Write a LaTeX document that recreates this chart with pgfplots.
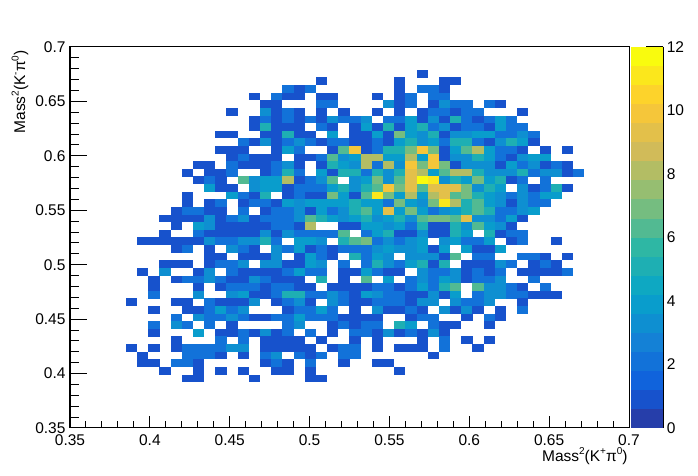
\documentclass[border=0pt]{standalone}
\usepackage{pgfplots}
\pgfplotsset{compat=1.18}
\usepackage{fontspec}
\setmainfont{Liberation Sans}
\newcommand\tsz{\fontsize{15.5}{18}\selectfont}
\newcommand\sups[1]{\raisebox{0.42em}{\fontsize{10}{10}\selectfont #1}}
% ROOT kBird palette, 20 contour bands over 0..12
\definecolor{b0}{RGB}{38,62,170}\definecolor{b1}{RGB}{23,82,204}\definecolor{b2}{RGB}{16,99,220}\definecolor{b3}{RGB}{18,114,217}
\definecolor{b4}{RGB}{20,129,214}\definecolor{b5}{RGB}{14,143,209}\definecolor{b6}{RGB}{9,157,204}\definecolor{b7}{RGB}{14,168,194}
\definecolor{b8}{RGB}{30,175,179}\definecolor{b9}{RGB}{46,183,164}\definecolor{b10}{RGB}{82,186,146}\definecolor{b11}{RGB}{117,189,128}
\definecolor{b12}{RGB}{150,190,113}\definecolor{b13}{RGB}{179,189,100}\definecolor{b14}{RGB}{209,187,89}\definecolor{b15}{RGB}{227,192,74}
\definecolor{b16}{RGB}{245,198,58}\definecolor{b17}{RGB}{253,211,43}\definecolor{b18}{RGB}{251,231,28}\definecolor{b19}{RGB}{249,251,14}
\pgfdeclareplotmark{cell}{\pgfpathrectangle{\pgfqpoint{-5.65pt}{-3.87pt}}{\pgfqpoint{11.3pt}{7.74pt}}\pgfusepathqfill}
\pgfdeclareplotmark{band}{\pgfpathrectangle{\pgfqpoint{-16.2pt}{-9.6pt}}{\pgfqpoint{32.4pt}{19.2pt}}\pgfusepathqfill}
\pgfplotsset{
 cellplot/.style={only marks,scatter,scatter src=explicit symbolic,
  scatter/classes={
   1={mark=cell,fill=b1},2={mark=cell,fill=b3},3={mark=cell,fill=b5},4={mark=cell,fill=b6},
   5={mark=cell,fill=b8},6={mark=cell,fill=b10},7={mark=cell,fill=b11},8={mark=cell,fill=b13},
   9={mark=cell,fill=b15},10={mark=cell,fill=b16},11={mark=cell,fill=b18},12={mark=cell,fill=b19}}},
 bandplot/.style={only marks,scatter,scatter src=explicit symbolic,
  scatter/classes={
   0={mark=band,fill=b0},1={mark=band,fill=b1},2={mark=band,fill=b2},3={mark=band,fill=b3},4={mark=band,fill=b4},
   5={mark=band,fill=b5},6={mark=band,fill=b6},7={mark=band,fill=b7},8={mark=band,fill=b8},9={mark=band,fill=b9},
   10={mark=band,fill=b10},11={mark=band,fill=b11},12={mark=band,fill=b12},13={mark=band,fill=b13},14={mark=band,fill=b14},
   15={mark=band,fill=b15},16={mark=band,fill=b16},17={mark=band,fill=b17},18={mark=band,fill=b18},19={mark=band,fill=b19}}},
 common/.style={scale only axis,width=559pt,height=381pt,at={(70pt,48pt)},anchor=south west,
  xmin=0.35,xmax=0.7,ymin=0.35,ymax=0.7,axis line style={line width=1pt},
  tick style={line width=1pt,black},minor tick style={line width=1pt,black},tick align=inside,
  tick label style={font=\tsz},scaled ticks=false}
}
% one row of bins: #1 = y bin number, #2 = x bin number and content
\newcommand\binrow[2]{\addplot[cellplot] table[row sep=\\,x expr=\thisrow{i}*0.007+0.3535,y expr=#1*0.007+0.3535,meta=v]{i v\\ #2};}
\begin{document}
\begin{tikzpicture}[x=1pt,y=1pt]
\useasboundingbox (0,0) rectangle (698,476);
\begin{axis}[common,
  xtick={0.35,0.4,0.45,0.5,0.55,0.6,0.65,0.7},
  xticklabels={0.35,0.4,0.45,0.5,0.55,0.6,0.65,0.7},
  ytick=\empty,minor x tick num=4,tickwidth=12pt,subtickwidth=6.5pt,
  xtick pos=bottom,
  xlabel={Mass\sups{2}(K\sups{+}π\sups{0})},
  every axis x label/.style={at={(rel axis cs:1,0)},anchor=north east,yshift=-16pt,xshift=2pt,font=\tsz},
  xticklabel style={yshift=-3pt}]
\binrow{46}{31 1\\}
\binrow{45}{22 1\\29 1\\33 1\\34 1\\}
\binrow{44}{19 2\\20 1\\21 2\\29 1\\31 2\\32 2\\33 1\\}
\binrow{43}{16 1\\18 2\\19 1\\20 1\\22 1\\23 1\\27 1\\29 1\\30 2\\32 2\\33 2\\}
\binrow{42}{17 1\\18 1\\22 2\\23 2\\28 3\\29 1\\30 2\\32 1\\33 3\\34 2\\35 2\\37 2\\38 1\\}
\binrow{41}{14 1\\17 3\\18 1\\19 2\\20 1\\22 1\\24 1\\27 1\\29 1\\31 1\\32 2\\33 2\\34 1\\35 2\\36 2\\40 1\\}
\binrow{40}{16 1\\17 2\\18 1\\19 2\\20 1\\21 2\\22 1\\23 3\\24 2\\25 2\\26 3\\28 2\\29 2\\30 4\\31 1\\32 3\\33 1\\34 5\\35 2\\36 1\\37 2\\38 4\\39 2\\}
\binrow{39}{16 1\\17 5\\18 1\\19 1\\20 1\\22 2\\23 1\\25 1\\26 4\\27 1\\28 5\\29 1\\30 4\\31 5\\32 2\\33 3\\34 1\\35 2\\36 2\\37 1\\38 4\\39 2\\40 2\\}
\binrow{38}{13 1\\14 1\\17 1\\18 1\\19 5\\20 1\\21 1\\23 4\\25 1\\26 1\\27 4\\28 1\\29 7\\30 4\\31 3\\32 5\\33 1\\34 3\\35 3\\36 4\\37 4\\38 2\\39 2\\40 3\\41 2\\}
\binrow{37}{15 2\\16 1\\17 3\\18 1\\19 2\\20 3\\21 2\\22 1\\23 2\\24 2\\25 1\\26 1\\27 2\\28 1\\29 4\\30 5\\31 3\\32 4\\33 2\\34 5\\35 5\\36 2\\37 1\\38 3\\39 5\\40 4\\41 1\\}
\binrow{36}{13 1\\14 1\\15 1\\18 1\\19 4\\20 2\\23 1\\24 6\\25 10\\26 1\\27 2\\28 5\\29 5\\30 7\\31 10\\32 7\\33 1\\34 4\\35 6\\36 8\\37 4\\38 2\\39 2\\40 1\\42 1\\44 1\\}
\binrow{35}{14 1\\15 2\\16 1\\17 1\\18 1\\20 1\\21 1\\22 2\\23 6\\24 3\\25 4\\26 8\\27 8\\28 4\\29 4\\30 8\\31 4\\32 10\\33 1\\34 3\\35 3\\36 5\\37 4\\38 2\\39 1\\40 3\\41 4\\42 4\\}
\binrow{34}{11 1\\12 1\\14 2\\15 1\\16 1\\17 1\\18 2\\19 3\\20 1\\22 1\\23 5\\24 4\\25 3\\26 8\\27 2\\28 8\\29 3\\30 10\\31 7\\32 10\\33 7\\34 1\\35 3\\36 3\\37 3\\38 1\\39 4\\40 2\\41 3\\42 1\\43 2\\44 1\\}
\binrow{33}{10 1\\12 1\\13 1\\14 2\\17 1\\18 2\\19 5\\20 2\\22 4\\23 1\\24 5\\25 5\\26 2\\27 5\\28 3\\29 5\\30 9\\31 8\\32 4\\33 6\\34 8\\35 8\\36 5\\37 3\\38 3\\39 3\\40 5\\41 2\\42 3\\43 3\\44 1\\45 2\\}
\binrow{32}{11 1\\12 2\\13 1\\15 6\\16 3\\17 4\\18 4\\19 8\\20 1\\21 2\\22 3\\23 6\\25 3\\26 4\\27 7\\28 3\\29 6\\30 9\\31 12\\32 11\\33 3\\34 5\\35 4\\36 7\\37 4\\38 5\\39 1\\40 2\\42 2\\}
\binrow{31}{12 4\\13 1\\14 1\\16 3\\17 4\\18 4\\19 1\\20 2\\21 2\\22 2\\23 4\\24 5\\25 3\\26 5\\27 6\\28 10\\29 7\\30 9\\31 6\\32 9\\33 9\\34 9\\35 7\\36 3\\37 5\\38 4\\40 3\\41 1\\42 2\\43 5\\44 1\\}
\binrow{30}{10 1\\14 4\\15 2\\16 1\\17 5\\19 1\\20 2\\21 1\\22 1\\23 7\\24 4\\25 1\\26 6\\27 11\\28 7\\29 4\\30 8\\31 4\\32 8\\33 9\\34 6\\35 7\\36 5\\37 4\\38 3\\39 2\\40 3\\41 2\\42 4\\43 4\\}
\binrow{29}{10 1\\12 1\\13 2\\15 1\\16 2\\17 2\\18 1\\19 4\\20 3\\21 4\\22 4\\23 4\\24 4\\25 5\\26 4\\27 4\\28 2\\29 7\\30 4\\31 3\\32 7\\33 11\\34 8\\35 5\\36 6\\37 4\\38 3\\39 1\\40 3\\41 2\\42 2\\}
\binrow{28}{9 1\\10 2\\11 2\\12 1\\13 1\\15 2\\17 1\\18 2\\19 2\\20 3\\21 1\\22 4\\23 2\\24 3\\25 5\\26 6\\27 4\\28 9\\29 4\\30 7\\31 4\\32 2\\33 3\\34 4\\35 5\\36 6\\37 5\\38 2\\39 2\\40 3\\41 4\\}
\binrow{27}{8 1\\9 1\\10 1\\11 1\\12 3\\13 1\\14 2\\15 3\\16 1\\17 2\\18 2\\19 2\\20 3\\21 6\\22 5\\23 4\\24 3\\25 4\\26 5\\27 3\\28 4\\29 5\\30 3\\31 6\\32 7\\33 7\\34 6\\35 9\\36 3\\37 3\\38 2\\39 4\\40 1\\}
\binrow{26}{9 1\\11 4\\12 3\\13 1\\14 1\\15 1\\16 1\\17 1\\18 2\\19 2\\20 1\\21 8\\24 1\\25 1\\26 4\\27 4\\28 3\\29 4\\30 2\\31 5\\32 1\\33 1\\34 5\\35 3\\36 6\\37 4\\38 3\\39 1\\}
\binrow{25}{8 1\\11 2\\12 1\\13 1\\14 1\\15 1\\16 1\\17 3\\18 1\\19 3\\20 2\\21 2\\22 2\\23 2\\24 6\\26 2\\27 4\\28 5\\29 1\\30 1\\31 3\\32 1\\33 1\\34 5\\35 4\\37 5\\38 1\\39 2\\40 2\\}
\binrow{24}{6 1\\7 1\\8 1\\9 1\\10 1\\11 1\\12 3\\13 2\\14 2\\15 3\\16 3\\17 5\\18 2\\20 4\\21 4\\22 3\\24 5\\25 6\\26 7\\27 2\\28 3\\29 2\\30 3\\31 4\\33 3\\34 4\\35 2\\36 2\\37 4\\39 1\\40 2\\43 1\\}
\binrow{23}{9 1\\10 2\\12 1\\14 3\\15 2\\16 1\\18 3\\19 2\\20 4\\21 1\\22 2\\23 1\\24 2\\25 2\\26 2\\27 3\\28 4\\29 3\\30 3\\31 4\\32 1\\33 4\\35 4\\36 1\\37 1\\38 4\\}
\binrow{22}{12 1\\13 1\\15 1\\16 1\\17 1\\18 3\\20 1\\21 4\\22 2\\23 1\\25 5\\26 2\\27 4\\28 3\\30 3\\31 3\\32 3\\33 1\\34 6\\36 2\\37 2\\40 2\\41 2\\42 1\\44 1\\}
\binrow{21}{8 1\\9 1\\10 1\\12 1\\13 2\\14 2\\15 3\\17 3\\18 3\\19 1\\20 1\\21 4\\22 3\\24 2\\26 2\\27 5\\28 3\\29 2\\30 4\\31 5\\32 1\\33 5\\35 1\\36 1\\37 1\\38 3\\39 2\\41 1\\42 2\\43 1\\}
\binrow{20}{6 1\\8 3\\11 1\\12 3\\14 2\\15 1\\16 1\\17 1\\18 1\\19 2\\20 4\\21 2\\22 2\\24 1\\25 1\\26 4\\27 2\\28 1\\29 1\\31 3\\32 2\\33 2\\34 3\\35 1\\36 2\\37 1\\38 2\\40 1\\41 1\\42 1\\43 1\\44 2\\}
\binrow{19}{7 1\\9 1\\10 2\\11 2\\12 3\\13 2\\14 1\\15 1\\16 3\\17 2\\18 1\\19 1\\20 1\\22 5\\24 1\\26 6\\28 4\\30 2\\31 3\\32 2\\33 4\\34 3\\35 1\\36 2\\37 2\\38 3\\41 2\\}
\binrow{18}{7 1\\11 1\\13 1\\14 2\\15 2\\16 2\\17 1\\18 2\\19 2\\20 1\\21 1\\23 1\\24 1\\25 1\\26 1\\27 2\\28 2\\29 1\\30 2\\31 4\\32 2\\33 5\\34 6\\36 6\\37 3\\38 3\\39 2\\40 1\\42 2\\}
\binrow{17}{7 2\\11 3\\14 3\\15 4\\16 1\\17 1\\18 2\\19 5\\20 5\\21 2\\22 2\\23 3\\24 2\\25 1\\26 4\\27 3\\28 2\\29 2\\30 1\\31 1\\32 3\\33 1\\34 4\\36 2\\37 3\\38 3\\39 2\\40 2\\41 1\\42 1\\43 1\\}
\binrow{16}{5 1\\9 1\\10 1\\12 2\\13 1\\14 1\\15 1\\16 3\\18 1\\19 2\\20 3\\21 1\\23 3\\24 2\\25 1\\26 1\\27 2\\28 2\\29 2\\30 1\\31 3\\32 3\\34 3\\35 2\\36 2\\37 3\\40 1\\}
\binrow{15}{7 1\\10 1\\11 1\\12 2\\13 4\\14 2\\15 3\\19 1\\20 2\\21 2\\22 4\\23 2\\25 1\\27 3\\28 1\\29 1\\30 2\\31 1\\33 3\\34 1\\35 3\\36 1\\38 1\\40 2\\}
\binrow{14}{9 2\\11 3\\12 2\\13 2\\14 3\\15 2\\16 1\\17 1\\18 2\\19 2\\20 4\\21 2\\22 2\\23 2\\24 1\\25 1\\26 1\\27 1\\30 1\\31 2\\32 2\\35 1\\37 2\\38 1\\}
\binrow{13}{7 2\\9 3\\10 2\\12 2\\14 1\\19 2\\20 3\\23 1\\24 2\\25 1\\26 2\\27 2\\29 5\\30 4\\32 2\\33 1\\34 1\\37 1\\}
\binrow{12}{7 1\\11 4\\13 1\\14 1\\15 2\\16 1\\17 3\\18 1\\19 2\\21 2\\23 1\\25 2\\26 2\\27 1\\28 3\\29 1\\30 2\\31 1\\32 3\\33 1\\}
\binrow{11}{9 1\\13 2\\15 2\\17 1\\18 1\\19 1\\20 1\\22 1\\25 1\\27 1\\31 1\\33 2\\35 1\\37 1\\}
\binrow{10}{5 1\\7 1\\9 1\\10 2\\11 2\\12 2\\13 2\\14 3\\15 3\\17 1\\18 1\\19 1\\20 1\\21 1\\23 1\\24 2\\25 2\\27 1\\29 1\\30 1\\31 1\\33 2\\36 1\\}
\binrow{9}{6 1\\10 2\\11 2\\12 2\\13 1\\15 1\\17 2\\18 3\\20 2\\21 1\\22 2\\24 2\\25 2\\32 1\\}
\binrow{8}{6 1\\7 1\\9 2\\10 2\\11 1\\17 1\\18 2\\19 1\\21 2\\24 1\\27 1\\28 1\\}
\binrow{7}{8 1\\11 1\\13 1\\15 1\\18 1\\19 1\\21 1\\29 1\\}
\binrow{6}{10 1\\11 1\\16 1\\21 1\\22 1\\}
\end{axis}
\begin{axis}[common,
  xtick=\empty,
  ytick={0.35,0.4,0.45,0.5,0.55,0.6,0.65,0.7},
  yticklabels={0.35,0.4,0.45,0.5,0.55,0.6,0.65,0.7},
  minor y tick num=4,tickwidth=17pt,subtickwidth=9pt,ytick pos=left,
  ylabel={Mass\sups{2}(K\sups{-}π\sups{0})},
  every axis y label/.style={at={(rel axis cs:0,1)},rotate=90,anchor=east,yshift=50pt,font=\tsz},
  yticklabel style={xshift=-1pt}]
\end{axis}
\begin{axis}[scale only axis,width=32.3pt,height=381pt,at={(631pt,48pt)},anchor=south west,
  xmin=0,xmax=1,ymin=0,ymax=12,
  axis x line=none,axis y line*=right,axis line style={line width=1pt,-},
  ytick={0,2,4,6,8,10,12},yticklabels={0,2,4,6,8,10,12},
  tick align=inside,tickwidth=17pt,tick style={line width=1pt,black},
  tick label style={font=\tsz},axis on top,
  yticklabel style={xshift=0pt}]
\addplot[bandplot] table[row sep=\\,x=x,y=y,meta=k]{x y k\\
0.5 0.3 0\\0.5 0.9 1\\0.5 1.5 2\\0.5 2.1 3\\0.5 2.7 4\\0.5 3.3 5\\0.5 3.9 6\\0.5 4.5 7\\0.5 5.1 8\\0.5 5.7 9\\
0.5 6.3 10\\0.5 6.9 11\\0.5 7.5 12\\0.5 8.1 13\\0.5 8.7 14\\0.5 9.3 15\\0.5 9.9 16\\0.5 10.5 17\\0.5 11.1 18\\0.5 11.7 19\\};
\end{axis}
\end{tikzpicture}
\end{document}
